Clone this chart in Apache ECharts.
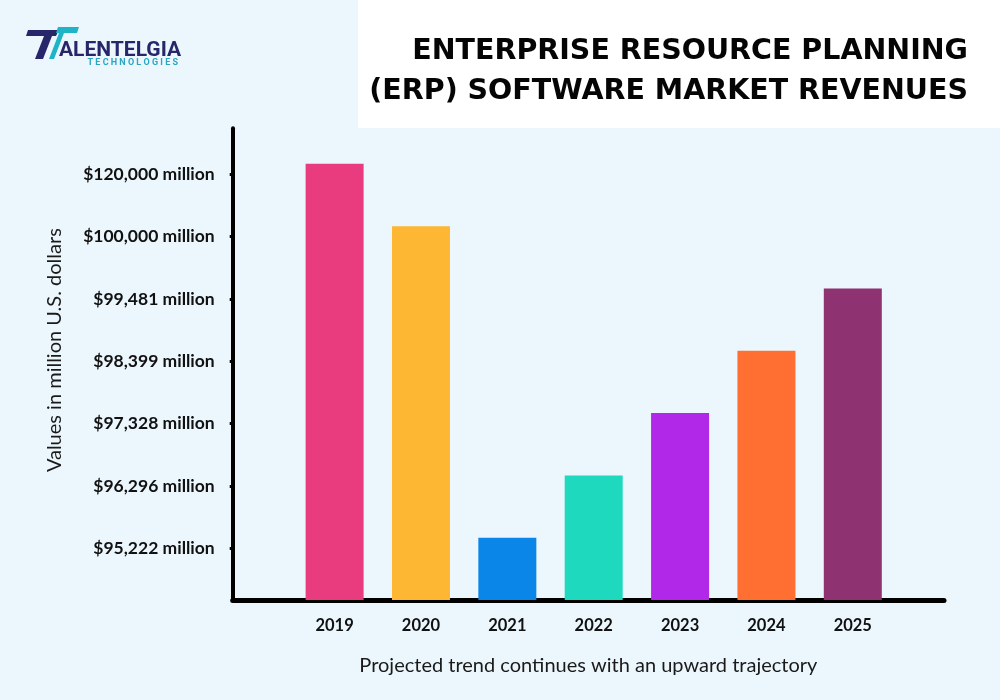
<!DOCTYPE html>
<html>
<head>
<meta charset="utf-8">
<script src="https://cdn.jsdelivr.net/npm/echarts@6/dist/echarts.min.js"></script>
<style>
html,body{margin:0;padding:0;background:#ECF7FD;}
#chart{width:1000px;height:700px;}
</style>
</head>
<body>
<div id="chart"></div>
<script>
// ---- data ----
const years = ['2019', '2020', '2021', '2022', '2023', '2024', '2025'];
const revenues = [120000, 100000, 95222, 96296, 97328, 98399, 99481]; // million US$
const tickValues = [95222, 96296, 97328, 98399, 99481, 100000, 120000]; // ordinal axis levels (bottom to top)
const tickLabels = ['$95,222 million', '$96,296 million', '$97,328 million', '$98,399 million',
                    '$99,481 million', '$100,000 million', '$120,000 million'];
const barColors = ['#E83C7E', '#FDB732', '#0A86E8', '#1FD9BE', '#B228E8', '#FF6F32', '#8E3272'];

// The infographic uses an ordinal (rank) value axis: each value sits at its own level.
const TICK_SHIFT = 0.17;
const levelOf = v => tickValues.indexOf(v) + 1;
const tickPositions = tickValues.map((v, i) => +(i + 1 - TICK_SHIFT).toFixed(2));

const chart = echarts.init(document.getElementById('chart'));
const FONT = 'Lato';

chart.setOption({
  backgroundColor: '#ECF7FD',
  animation: false,
  title: {
    text: 'ENTERPRISE RESOURCE PLANNING\n(ERP) SOFTWARE MARKET REVENUES',
    left: 968,
    textAlign: 'right',
    top: 32,
    padding: 0,
    textStyle: {
      fontFamily: 'DejaVu Sans',
      fontWeight: 'bold',
      fontSize: 28.5,
      lineHeight: 40,
      color: '#050505',
      textShadowColor: '#A9D7EE',
      textShadowOffsetX: 2,
      textShadowOffsetY: 2,
      textShadowBlur: 0
    }
  },
  graphic: [
    { type: 'rect', z: -10, shape: { x: 358, y: 0, width: 642, height: 128 }, style: { fill: '#FFFFFF' } },
    { type: 'polygon', shape: { points: [[28, 30], [59, 30], [56, 36], [52, 36], [43, 59], [35, 59], [44, 36], [26, 36]] },
      style: { fill: '#27266A' } },
    { type: 'polygon', shape: { points: [[58, 27], [79, 27], [77, 33], [64, 33], [54, 59], [49, 59], [59, 33], [56, 33]] },
      style: { fill: '#1FB3C8' } },
    { type: 'text', x: 59, y: 40, style: { text: 'ALENTELGIA', fontFamily: 'Roboto', fontWeight: 'bold', fontSize: 21,
      fill: '#27266A', textVerticalAlign: 'top' } },
    { type: 'text', x: 178, y: 58, style: { text: 'T E C H N O L O G I E S', fontFamily: 'Roboto', fontWeight: 'bold', fontSize: 9,
      fill: '#2AA6C2', align: 'right', textVerticalAlign: 'top' } }
  ],
  grid: { left: 232.7, right: 56, top: 128.3, bottom: 100, containLabel: false },
  xAxis: {
    type: 'value',
    min: -1.18,
    max: 7.056,
    splitLine: { show: false },
    axisLine: { show: true, onZero: false, lineStyle: { color: '#000', width: 5 } },
    axisTick: { show: false },
    axisLabel: {
      customValues: years.map((y, i) => i),
      formatter: v => years[Math.round(v)],
      margin: 17,
      fontFamily: FONT,
      fontWeight: 'bold',
      fontSize: 16.5,
      color: '#111'
    },
    name: 'Projected trend continues with an upward trajectory',
    nameLocation: 'middle',
    nameGap: 56,
    nameTextStyle: { fontFamily: FONT, fontSize: 20, color: '#1a1a1a' }
  },
  yAxis: {
    type: 'value',
    min: 0,
    max: 7.57,
    splitLine: { show: false },
    axisLine: { show: true, onZero: false, lineStyle: { color: '#000', width: 4 } },
    axisTick: { show: true, customValues: tickPositions, length: 3, lineStyle: { color: '#000', width: 3 } },
    axisLabel: {
      customValues: tickPositions,
      formatter: v => tickLabels[Math.round(v + TICK_SHIFT) - 1],
      margin: 18,
      fontFamily: FONT,
      fontWeight: 'bold',
      fontSize: 17.5,
      color: '#111'
    },
    name: 'Values in million U.S. dollars',
    nameLocation: 'middle',
    nameRotate: 90,
    nameGap: 168,
    nameTextStyle: { fontFamily: FONT, fontSize: 20, color: '#1a1a1a', padding: [0, 0, 0, 28] }
  },
  series: [{
    type: 'bar',
    barWidth: 58,
    data: revenues.map((v, i) => ({ value: [i, levelOf(v)], itemStyle: { color: barColors[i] } })),
    z: 1
  }]
});
</script>
</body>
</html>
